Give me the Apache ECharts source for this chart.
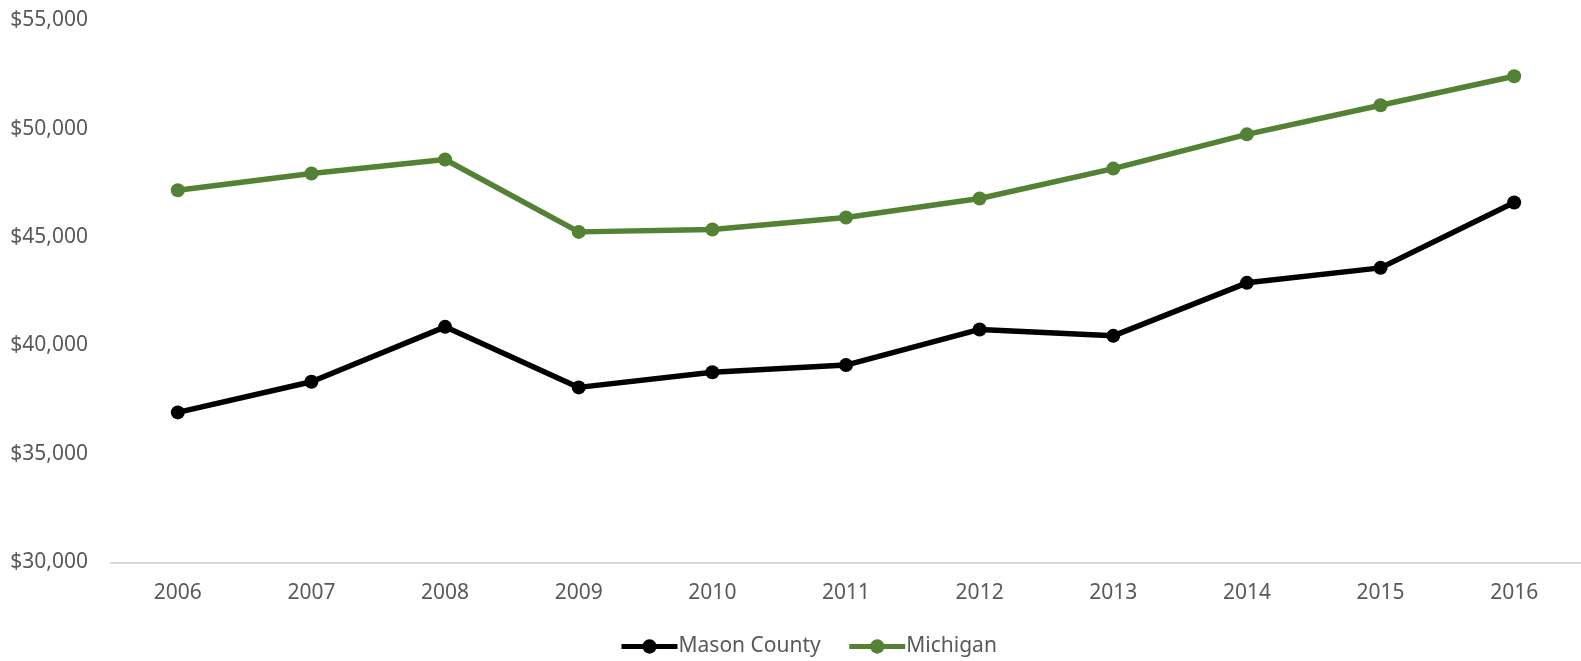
<!DOCTYPE html>
<html>
<head>
<meta charset="utf-8">
<script src="https://cdn.jsdelivr.net/npm/echarts@6/dist/echarts.min.js"></script>
<style>html,body{margin:0;padding:0;background:#fff}#c{width:1581px;height:661px}</style>
</head>
<body>
<div id="c"></div>
<script>
const years = ['2006','2007','2008','2009','2010','2011','2012','2013','2014','2015','2016'];
const masonCounty = [36915, 38326, 40861, 38068, 38768, 39096, 40741, 40446, 42890, 43581, 46596];
const michigan = [47163, 47933, 48579, 45241, 45353, 45905, 46780, 48159, 49740, 51082, 52419];
const yTicks = [30000, 35000, 40000, 45000, 50000, 55000];

const font = '"Noto Sans", "Open Sans", sans-serif';
const chart = echarts.init(document.getElementById('c'), null, {renderer: 'canvas'});
chart.setOption({
  animation: false,
  backgroundColor: '#ffffff',
  grid: {left: 111, right: 0, top: 20.3, bottom: 98.7, containLabel: false},
  legend: {
    left: 614, top: 631,
    itemWidth: 56, itemHeight: 18, itemGap: 26,
    lineStyle: {width: 5},
    textStyle: {color: '#595959', fontSize: 21, fontFamily: font, padding: [0, 0, 0, -4]},
    data: ['Mason County', 'Michigan']
  },
  xAxis: {
    type: 'category', data: years, boundaryGap: true,
    axisLine: {lineStyle: {color: '#d9d9d9', width: 2}},
    axisTick: {show: false},
    axisLabel: {color: '#595959', fontSize: 21, fontFamily: font, margin: 20}
  },
  yAxis: {
    type: 'value', min: yTicks[0], max: yTicks[yTicks.length - 1], interval: 5000,
    axisLine: {show: false}, axisTick: {show: false}, splitLine: {show: false},
    axisLabel: {color: '#595959', fontSize: 21, fontFamily: font, margin: 23,
      formatter: v => '$' + v.toLocaleString('en-US')}
  },
  series: [
    {name: 'Mason County', type: 'line', data: masonCounty,
     symbol: 'circle', symbolSize: 14,
     lineStyle: {color: '#000000', width: 5.5}, itemStyle: {color: '#000000'}},
    {name: 'Michigan', type: 'line', data: michigan,
     symbol: 'circle', symbolSize: 14,
     lineStyle: {color: '#548235', width: 5.5}, itemStyle: {color: '#548235'}}
  ]
});
</script>
</body>
</html>
